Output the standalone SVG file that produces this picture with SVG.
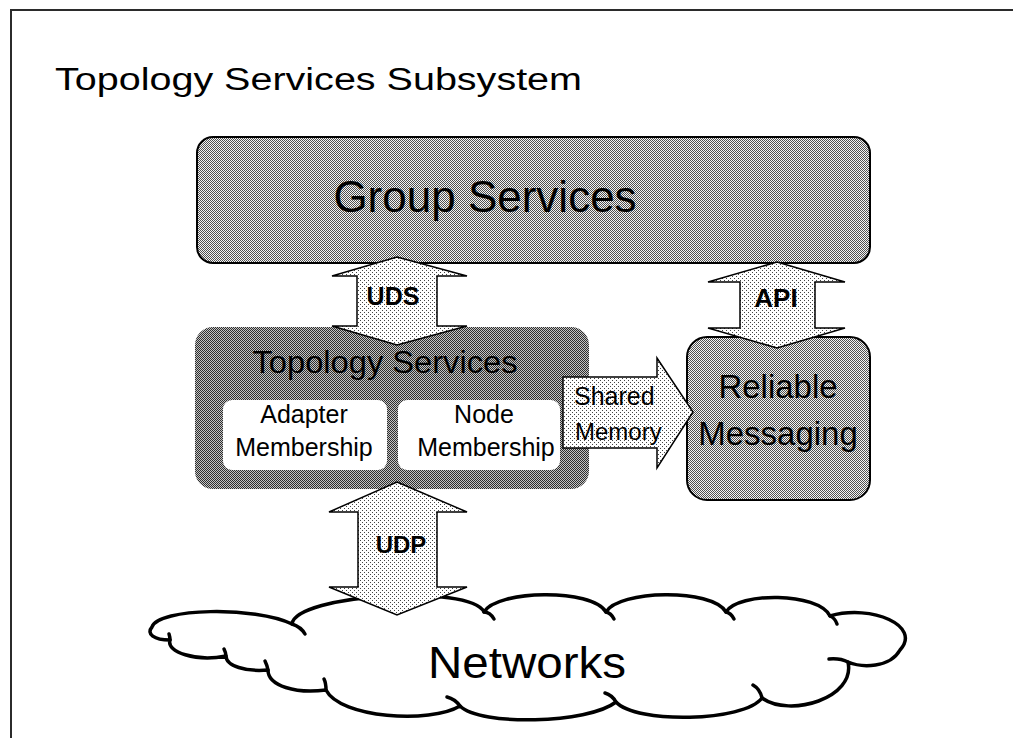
<svg xmlns="http://www.w3.org/2000/svg" width="1013" height="738" viewBox="0 0 1013 738">
  <style>
    .t { font-family: "Liberation Sans", Arial, sans-serif; fill: #000; }
    .b { font-weight: bold; }
    .box { stroke: #000; stroke-width: 2; }
    .arrow { fill: url(#dotLight); stroke: #000; stroke-width: 1.5; stroke-linejoin: miter; }
    .cloud { fill: #fff; stroke: #000; stroke-width: 3.5; stroke-linejoin: round; stroke-linecap: round; }
    .curl { fill: none; stroke: #000; stroke-width: 3.5; stroke-linecap: round; }
  </style>
  <defs>
    <!-- halftone fills -->
    <pattern id="dotLight" width="4" height="4" patternUnits="userSpaceOnUse">
      <rect width="4" height="4" fill="#fff"/>
      <rect x="0" y="0" width="1" height="1" fill="#444"/>
      <rect x="2" y="2" width="1" height="1" fill="#444"/>
    </pattern>
    <pattern id="checkMid" width="2" height="2" patternUnits="userSpaceOnUse">
      <rect width="2" height="2" fill="#f4f4f4"/>
      <rect x="0" y="0" width="1" height="1" fill="#505050"/>
      <rect x="1" y="1" width="1" height="1" fill="#505050"/>
    </pattern>
    <pattern id="checkDark" width="2" height="2" patternUnits="userSpaceOnUse">
      <rect width="2" height="2" fill="#c4c4c4"/>
      <rect x="0" y="0" width="1" height="1" fill="#2e2e2e"/>
      <rect x="1" y="1" width="1" height="1" fill="#2e2e2e"/>
    </pattern>
  </defs>

  <rect width="1013" height="738" fill="#fff"/>

  <!-- page frame -->
  <path d="M11,738 V10 H1013" fill="none" stroke="#2b2b2b" stroke-width="2"/>

  <text class="t" x="55" y="90" font-size="31" textLength="527" lengthAdjust="spacingAndGlyphs">Topology Services Subsystem</text>

  <g id="group-services">
    <rect class="box" x="197" y="137" width="673" height="126" rx="16" fill="url(#checkMid)"/>
    <text class="t" x="485" y="212" font-size="44" text-anchor="middle">Group Services</text>
  </g>

  <g id="topology-services">
    <rect x="195" y="327" width="394" height="162" rx="18" fill="url(#checkDark)"/>
    <text class="t" x="385" y="373" font-size="31" text-anchor="middle" textLength="265" lengthAdjust="spacingAndGlyphs">Topology Services</text>
    <g id="adapter-membership">
      <rect x="223" y="400" width="164" height="70" rx="9" fill="#fff"/>
      <text class="t" x="304" y="423" font-size="25" text-anchor="middle">Adapter</text>
      <text class="t" x="304" y="456" font-size="25" text-anchor="middle">Membership</text>
    </g>
    <g id="node-membership">
      <rect x="398" y="400" width="162" height="70" rx="9" fill="#fff"/>
      <text class="t" x="484" y="423" font-size="25" text-anchor="middle">Node</text>
      <text class="t" x="486" y="456" font-size="25" text-anchor="middle">Membership</text>
    </g>
  </g>

  <g id="reliable-messaging">
    <rect class="box" x="687" y="337" width="183" height="163" rx="20" fill="url(#checkMid)"/>
    <text class="t" x="778" y="398" font-size="33" text-anchor="middle">Reliable</text>
    <text class="t" x="778" y="445" font-size="33" text-anchor="middle">Messaging</text>
  </g>

  <g id="networks">
    <path class="cloud" d="M152,627
      C158,608 255,606 292,624
      C296,594 470,584 484,612
      C496,590 592,588 606,612
      C618,590 712,588 726,612
      C738,592 818,592 830,616
      C872,604 922,626 900,650
      C890,668 862,668 848,662
      C856,698 790,718 762,698
      C744,722 636,724 616,702
      C588,724 480,726 460,706
      C430,724 340,718 326,690
      C296,694 268,686 268,670
      C246,672 226,666 226,656
      C196,662 166,652 170,640
      C154,640 146,634 152,627 Z"/>
    <path class="curl" d="M292,624 q9,3 13,10"/>
    <path class="curl" d="M484,612 q6,0 10,7"/>
    <path class="curl" d="M606,612 q5,1 8,7"/>
    <path class="curl" d="M726,612 q5,1 8,7"/>
    <path class="curl" d="M830,616 q5,2 7,8"/>
    <path class="curl" d="M848,662 q-8,-4 -19,-3"/>
    <path class="curl" d="M762,698 q-2,-9 -9,-13"/>
    <path class="curl" d="M616,702 q-4,-7 -11,-9"/>
    <path class="curl" d="M460,706 q-5,-7 -13,-9"/>
    <path class="curl" d="M326,690 q0,-7 -2,-11"/>
    <path class="curl" d="M268,670 q-1,-5 -3,-9"/>
    <path class="curl" d="M226,656 q0,-3 -2,-7"/>
    <path class="curl" d="M170,640 q0,-3 -1,-6"/>
    <text class="t" x="527" y="678" font-size="44" text-anchor="middle" textLength="198" lengthAdjust="spacingAndGlyphs">Networks</text>
  </g>

  <g id="connectors">
    <g id="uds">
      <path class="arrow" d="M397,257 L467,276 H437 V326 H467 L397,345 L332,326 H357 V276 H332 Z"/>
      <text class="t b" x="393" y="305" font-size="25" text-anchor="middle">UDS</text>
    </g>
    <g id="api">
      <path class="arrow" d="M777,262 L845,282 H815 V328 H845 L777,348 L708,328 H740 V282 H708 Z"/>
      <text class="t b" x="776" y="307" font-size="26" text-anchor="middle">API</text>
    </g>
    <g id="udp">
      <path class="arrow" d="M397,482 L467,512 H437 V587 H467 L397,615 L329,587 H358 V512 H329 Z"/>
      <text class="t b" x="401" y="553" font-size="24" text-anchor="middle">UDP</text>
    </g>
    <g id="shared-memory">
      <path class="arrow" d="M563,377 H657 V358 L693,412 L657,468 V448 H563 Z"/>
      <text class="t" x="574" y="405" font-size="25">Shared</text>
      <text class="t" x="575" y="440" font-size="24">Memory</text>
    </g>
  </g>
</svg>
